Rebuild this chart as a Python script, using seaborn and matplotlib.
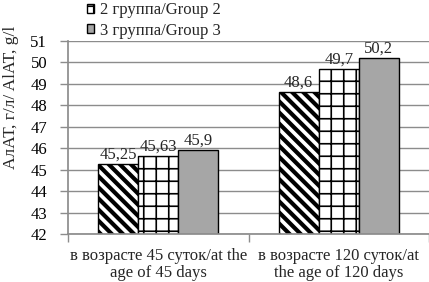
import matplotlib
matplotlib.use("Agg")
import matplotlib.pyplot as plt
import seaborn as sns
import pandas as pd
from matplotlib.patches import Patch
from matplotlib.backend_bases import GraphicsContextBase

_orig_ghp = GraphicsContextBase.get_hatch_path
def _ghp(self, density=6.0):
    if self.get_hatch() == "+":
        density = 8.0
    return _orig_ghp(self, density)
GraphicsContextBase.get_hatch_path = _ghp

categories = ["в возрасте 45 суток/at the\nage of 45 days", "в возрасте 120 суток/at\nthe age of 120 days"]
groups = ["1 группа/Group 1", "2 группа/Group 2", "3 группа/Group 3"]
group1 = [45.25, 48.6]
group2 = [45.63, 49.7]
group3 = [45.9, 50.2]
labels = [["45,25", "48,6"], ["45,63", "49,7"], ["45,9", "50,2"]]

sns.set_theme(style="white")
plt.rcParams['font.family'] = ['Liberation Serif', 'DejaVu Serif']
plt.rcParams['hatch.linewidth'] = 1.2

rows = []
for g, vals in zip(groups, [group1, group2, group3]):
    for c, v in zip(categories, vals):
        rows.append({"cat": c, "group": g, "val": v})
df = pd.DataFrame(rows)

fig = plt.figure(figsize=(4.29, 2.82), dpi=100)
ax = fig.add_axes([68/429, 1-234/282, 361/429, (234-41)/282])
palette = ["white", "white", "#a6a6a6"]
sns.barplot(data=df, x="cat", y="val", hue="group", palette=palette, width=0.667,
            edgecolor="black", linewidth=1.0, ax=ax, legend=False, saturation=1)
hatches = ["\\\\\\", "+", ""]
hlw = [3.0, 1.2, 1.0]
for cont, h, lab, lw in zip(ax.containers, hatches, labels, hlw):
    for p in cont:
        p.set_hatch(h)
        p.set_edgecolor("black")
        if hasattr(p, "set_hatch_linewidth"):
            p.set_hatch_linewidth(lw)
    ax.bar_label(cont, labels=lab, fontsize=12, padding=1)

ax.set_ylim(42, 51)
ax.set_yticks(range(42, 52))
ax.yaxis.grid(True, color="#8c8c8c", linewidth=1)
ax.set_axisbelow(True)
for s in ["top", "right"]:
    ax.spines[s].set_visible(False)
ax.spines["left"].set_color("#8c8c8c")
ax.spines["bottom"].set_color("#8c8c8c")
ax.tick_params(axis="y", labelsize=12, length=6, width=1, color="#8c8c8c", pad=9, left=True, labelcolor="black")
ax.tick_params(axis="x", which="major", labelsize=12, length=0, pad=10)
ax.set_xticks([-0.5, 0.5, 1.5], minor=True)
ax.tick_params(axis="x", which="minor", length=6, width=1, color="#8c8c8c", bottom=True)
ax.set_xlabel("")
ax.set_ylabel("")
fig.text(11/429, 1 - 97/282, "АлАТ, г/л/ AlAT, g/l", fontsize=12.5, rotation=90,
         ha="center", va="center")
ax.set_xticks([0, 1])
ax.set_xticklabels(categories, linespacing=1.1)
ax.set_xlim(-0.5, 1.5)

handles = [Patch(facecolor="white", edgecolor="black", hatch="+", label=groups[1]),
           Patch(facecolor="#a6a6a6", edgecolor="black", label=groups[2])]
fig.legend(handles=handles, loc="upper left", bbox_to_anchor=(80/429, 1.015), frameon=False,
           fontsize=12, handlelength=0.45, handleheight=0.45, handletextpad=0.35,
           labelspacing=0.25, borderaxespad=0)
fig.savefig("out.png", dpi=100)
